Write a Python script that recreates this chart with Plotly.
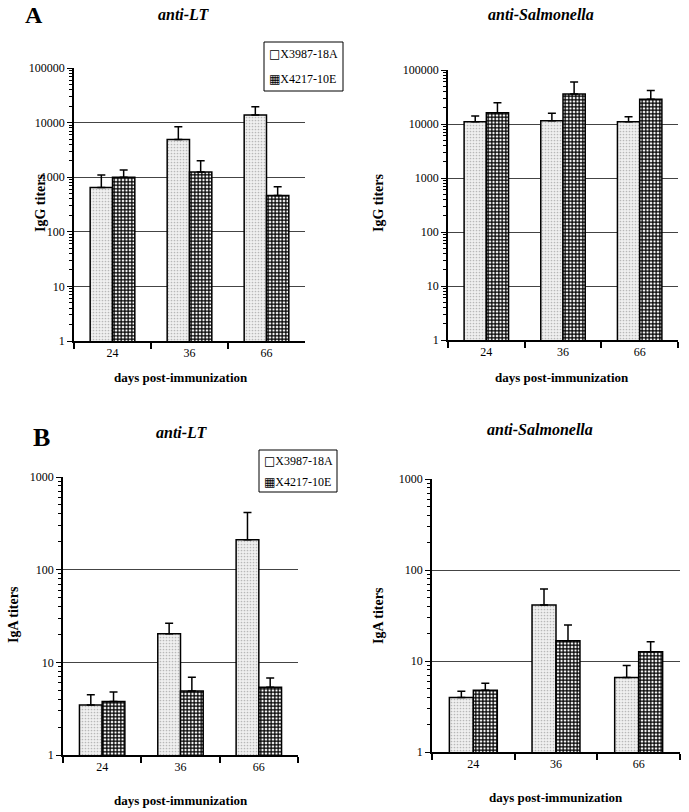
import plotly.graph_objects as go

days = ["24", "36", "66"]
series_names = ["X3987-18A", "X4217-10E"]
legend_glyphs = ["□", "▦"]

# Panel A (IgG)
igg_lt_18a = [645, 4900, 13800]
igg_lt_18a_err = [455, 3500, 5700]
igg_lt_10e = [1000, 1250, 460]
igg_lt_10e_err = [350, 750, 210]

igg_sal_18a = [11000, 11500, 11000]
igg_sal_18a_err = [3000, 4300, 2600]
igg_sal_10e = [16200, 36000, 28600]
igg_sal_10e_err = [8500, 24000, 13300]

# Panel B (IgA)
iga_lt_18a = [3.46, 20.3, 210]
iga_lt_18a_err = [1.0, 6.1, 204]
iga_lt_10e = [3.77, 4.9, 5.38]
iga_lt_10e_err = [1.0, 2.0, 1.4]

iga_sal_18a = [3.98, 41.3, 6.6]
iga_sal_18a_err = [0.68, 20.6, 2.3]
iga_sal_10e = [4.78, 16.7, 12.6]
iga_sal_10e_err = [0.9, 8.2, 3.7]

FONT = "Liberation Serif, Times New Roman, serif"
W, H = 689, 812

light_marker = dict(color="#ececec",
                    pattern=dict(shape=".", fgcolor="#b8b8b8", bgcolor="#f0f0f0", size=3, solidity=0.25),
                    line=dict(color="black", width=1.5))
dark_marker = dict(color="white",
                   pattern=dict(shape="+", fgcolor="black", bgcolor="white", size=3.5, solidity=0.6),
                   line=dict(color="black", width=1.5))

def err(arr):
    return dict(type="data", symmetric=False, array=arr, arrayminus=[0] * len(arr),
                color="black", thickness=1.5, width=4)

fig = go.Figure()

panels = [
    ("x", "y", igg_lt_18a, igg_lt_18a_err, igg_lt_10e, igg_lt_10e_err),
    ("x2", "y2", igg_sal_18a, igg_sal_18a_err, igg_sal_10e, igg_sal_10e_err),
    ("x3", "y3", iga_lt_18a, iga_lt_18a_err, iga_lt_10e, iga_lt_10e_err),
    ("x4", "y4", iga_sal_18a, iga_sal_18a_err, iga_sal_10e, iga_sal_10e_err),
]
for xa, ya, a, ae, b, be in panels:
    fig.add_trace(go.Bar(x=days, y=a, name=series_names[0], marker=light_marker, error_y=err(ae),
                         xaxis=xa, yaxis=ya, showlegend=False))
    fig.add_trace(go.Bar(x=days, y=b, name=series_names[1], marker=dark_marker, error_y=err(be),
                         xaxis=xa, yaxis=ya, showlegend=False))

def px_dom_x(a, b):
    return [a / W, b / W]

def px_dom_y(top, bottom):
    return [1 - bottom / H, 1 - top / H]

doms = [
    (px_dom_x(74, 305), px_dom_y(68, 341), 5),
    (px_dom_x(448, 678), px_dom_y(70, 340), 5),
    (px_dom_x(63, 298), px_dom_y(477, 755), 3),
    (px_dom_x(432, 680), px_dom_y(479, 752), 3),
]

layout = dict(width=W, height=H, margin=dict(l=0, r=0, t=0, b=0, autoexpand=False),
              template="none",
              paper_bgcolor="white", plot_bgcolor="white",
              barmode="group", bargap=0.42, bargroupgap=0, showlegend=False,
              font=dict(family=FONT, size=12, color="black"))

for i, (xd, yd, top) in enumerate(doms):
    sx = "" if i == 0 else str(i + 1)
    tv = [10 ** k for k in range(top + 1)]
    layout["xaxis" + sx] = dict(domain=xd, anchor="y" + sx, type="category", automargin=False,
                                showline=True, linecolor="black", linewidth=1.5,
                                ticks="outside", tickson="boundaries", ticklen=6,
                                tickcolor="black", tickwidth=1.5, showgrid=False,
                                tickfont=dict(family=FONT, size=12, color="black"))
    layout["yaxis" + sx] = dict(domain=yd, anchor="x" + sx, type="log", range=[0, top],
                                automargin=False,
                                tickvals=tv, ticktext=[str(v) for v in tv],
                                showline=True, linecolor="black", linewidth=1.5,
                                ticks="outside", ticklen=5, tickcolor="black", tickwidth=1,
                                showgrid=True, gridcolor="#444444", gridwidth=1,
                                zeroline=False,
                                minor=dict(ticks="outside", ticklen=3, tickcolor="black",
                                           dtick="D1", showgrid=False),
                                tickfont=dict(family=FONT, size=12, color="black"))

fig.update_layout(**layout)

def ann(text, x, y, size, bold=True, italic=False, angle=0, xanchor="center"):
    t = text
    if italic:
        t = "<i>" + t + "</i>"
    if bold:
        t = "<b>" + t + "</b>"
    fig.add_annotation(text=t, x=x / W, y=1 - y / H, xref="paper", yref="paper",
                       showarrow=False, xanchor=xanchor, yanchor="middle",
                       textangle=angle, font=dict(family=FONT, size=size, color="black"))

# legends (boxes + labels)
for (x0, y0, x1, y1) in [(264, 42, 343, 91), (259, 450, 337, 492)]:
    fig.add_shape(type="rect", xref="paper", yref="paper",
                  x0=x0 / W, x1=x1 / W, y0=1 - y1 / H, y1=1 - y0 / H,
                  line=dict(color="black", width=1), fillcolor="white", layer="above")
    n = len(series_names)
    step = (y1 - y0) / n
    for k in range(n):
        txt = ('<span style="font-family:DejaVu Sans;font-size:12px;font-weight:bold">'
               + legend_glyphs[k] + '</span>' + series_names[k])
        fig.add_annotation(text=txt,
                           x=(x0 + 3) / W, y=1 - (y0 + step * (k + 0.5)) / H,
                           xref="paper", yref="paper", showarrow=False,
                           xanchor="left", yanchor="middle",
                           font=dict(family=FONT, size=12, color="black"))

ann("A", 34, 15, 24)
ann("B", 41, 437, 26)
ann("anti-LT", 184, 15, 16, italic=True)
ann("anti-Salmonella", 541, 15, 16, italic=True)
ann("anti-LT", 182, 432, 16, italic=True)
ann("anti-Salmonella", 540, 430, 16, italic=True)
ann("IgG titers", 40, 203, 14, angle=-90)
ann("IgG titers", 378, 203, 14, angle=-90)
ann("IgA titers", 13, 615, 14, angle=-90)
ann("IgA titers", 378, 615, 14, angle=-90)
ann("days post-immunization", 181, 378, 13)
ann("days post-immunization", 562, 378, 13)
ann("days post-immunization", 181, 800, 13)
ann("days post-immunization", 556, 797, 13)

fig.write_html("out.html", config={"displayModeBar": False},
               post_script="document.body.style.margin='0px';")
